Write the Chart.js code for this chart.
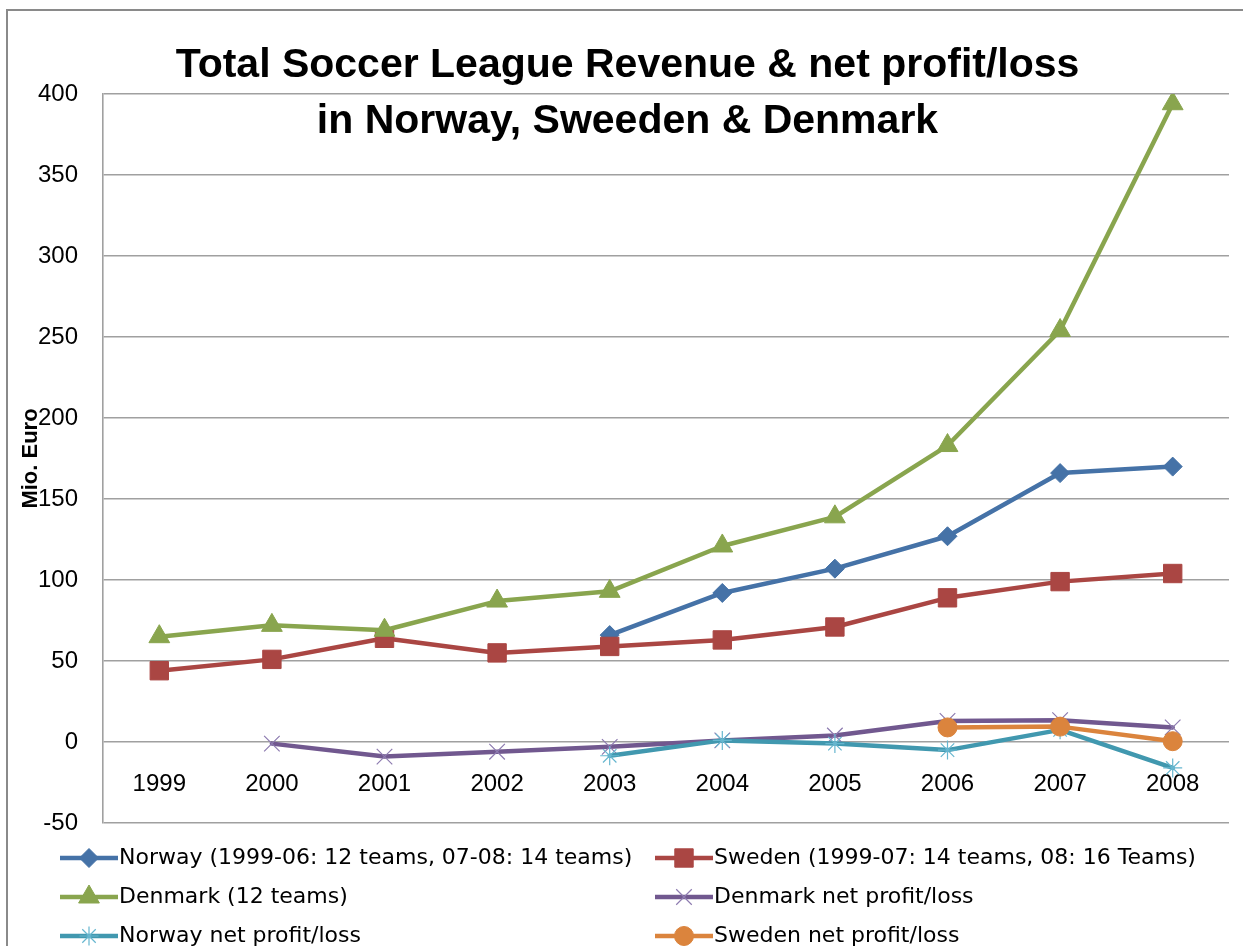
<!DOCTYPE html>
<html>
<head>
<meta charset="utf-8">
<script src="https://cdn.jsdelivr.net/npm/chart.js@4.4.1/dist/chart.umd.min.js"></script>
<style>
html,body{margin:0;padding:0;background:#fff;}
#wrap{width:1243px;height:946px;position:relative;overflow:hidden;}
canvas{display:block;}
</style>
</head>
<body>
<div id="wrap"><canvas id="c" width="1243" height="946"></canvas></div>
<script>
// ---- data ----
const categories = ['1999','2000','2001','2002','2003','2004','2005','2006','2007','2008'];
const norwayRevenue  = [null, null, null, null, 66, 92, 107, 127, 166, 170];
const swedenRevenue  = [44, 51, 64, 55, 59, 63, 71, 89, 99, 104];
const denmarkRevenue = [65, 72, 69, 87, 93, 121, 139, 183, 254, 394];
const denmarkNet     = [null, -1, -9, -6, -3, 1, 4, 13, 13.5, 9];
const norwayNet      = [null, null, null, null, -8.5, 1, -1, -5, 7.5, -16];
const swedenNet      = [null, null, null, null, null, null, null, 9, 9.5, 0.5];
const seriesNames = [
  'Norway (1999-06: 12 teams, 07-08: 14 teams)',
  'Sweden (1999-07: 14 teams, 08: 16 Teams)',
  'Denmark (12 teams)',
  'Denmark net profit/loss',
  'Norway net profit/loss',
  'Sweden net profit/loss'
];
const titleLines = ['Total Soccer League Revenue & net profit/loss', 'in Norway, Sweeden & Denmark'];
const yAxisTitle = 'Mio. Euro';
const yMin = -50, yMax = 400, yStep = 50;

// ---- styles ----
const seriesData = [norwayRevenue, swedenRevenue, denmarkRevenue, denmarkNet, norwayNet, swedenNet];
const styles = [
  {line:'#4572A7', ps:'rectRot',  r:9.5, fill:'#4572A7', border:'#4572A7', bw:1},
  {line:'#AA4643', ps:'rect',     r:13,  fill:'#AA4643', border:'#AA4643', bw:1},
  {line:'#89A54E', ps:'triangle', r:12,  fill:'#89A54E', border:'#89A54E', bw:1},
  {line:'#71588F', ps:'crossRot', r:11,  fill:'#8d7bb0', border:'#8d7bb0', bw:1.2},
  {line:'#4198AF', ps:'star',     r:9.5, fill:'#66b6cf', border:'#66b6cf', bw:1.2},
  {line:'#DB843D', ps:'circle',   r:9.5, fill:'#DB843D', border:'#DB843D', bw:1}
];
const GRID = '#a0a0a0';
const TICK_FONT = {family:'"Liberation Sans", Arial, sans-serif', size:24};

const datasets = seriesData.map((d, i) => ({
  label: seriesNames[i],
  data: d,
  borderColor: styles[i].line,
  backgroundColor: styles[i].line,
  borderWidth: 4.5,
  borderJoinStyle: 'round',
  borderCapStyle: 'round',
  tension: 0,
  fill: false,
  pointStyle: styles[i].ps,
  pointRadius: styles[i].r,
  pointBackgroundColor: styles[i].fill,
  pointBorderColor: styles[i].border,
  pointBorderWidth: styles[i].bw,
  order: 10 - i
}));

const framePlugin = {
  id: 'frame',
  beforeDraw(chart) {
    const ctx = chart.ctx;
    ctx.save();
    ctx.fillStyle = '#fff';
    ctx.fillRect(0, 0, chart.width, chart.height);
    ctx.restore();
  },
  afterDraw(chart) {
    const ctx = chart.ctx;
    ctx.save();
    // outer chart border (left & top visible)
    ctx.strokeStyle = '#8a8a8a';
    ctx.lineWidth = 2;
    ctx.strokeRect(7, 10, 1260, 960);
    // title
    ctx.fillStyle = '#000';
    ctx.font = 'bold 41px "Liberation Sans", Arial, sans-serif';
    ctx.textAlign = 'center';
    ctx.textBaseline = 'alphabetic';
    ctx.fillText(titleLines[0], 627.5, 77);
    ctx.fillText(titleLines[1], 627.5, 133);
    // y axis title
    ctx.save();
    ctx.translate(37, 458.5);
    ctx.rotate(-Math.PI / 2);
    ctx.font = 'bold 22px "Liberation Sans", Arial, sans-serif';
    ctx.fillText(yAxisTitle, 0, 0);
    ctx.restore();
    // legend
    const cols = [60, 655], rows = [858, 897, 936], lineLen = 58;
    chart.data.datasets.forEach((ds, i) => {
      const x0 = cols[i % 2], y = rows[Math.floor(i / 2)];
      ctx.strokeStyle = ds.borderColor;
      ctx.lineWidth = ds.borderWidth;
      ctx.lineCap = 'butt';
      ctx.beginPath(); ctx.moveTo(x0, y); ctx.lineTo(x0 + lineLen, y); ctx.stroke();
      ctx.fillStyle = ds.pointBackgroundColor;
      ctx.strokeStyle = ds.pointBorderColor;
      ctx.lineWidth = ds.pointBorderWidth;
      Chart.helpers.drawPoint(ctx, {pointStyle: ds.pointStyle, radius: ds.pointRadius, rotation: 0, borderWidth: ds.pointBorderWidth}, x0 + lineLen / 2, y);
      ctx.fillStyle = '#000';
      ctx.font = '22px "DejaVu Sans", sans-serif';
      ctx.textAlign = 'left';
      ctx.textBaseline = 'middle';
      ctx.fillText(ds.label, x0 + lineLen + 1, y);
    });
    ctx.restore();
  }
};

new Chart(document.getElementById('c'), {
  type: 'line',
  data: {labels: categories, datasets},
  plugins: [framePlugin],
  options: {
    responsive: false,
    animation: false,
    events: [],
    layout: {padding: {left: 0, top: 94, right: 12, bottom: 123}},
    plugins: {legend: {display: false}, title: {display: false}, tooltip: {enabled: false}},
    scales: {
      x: {
        type: 'category',
        offset: true,
        position: {y: 0},
        grid: {display: false, drawTicks: false},
        border: {display: false},
        ticks: {color: '#000', font: TICK_FONT, padding: 28, maxRotation: 0, autoSkip: false}
      },
      y: {
        min: yMin, max: yMax,
        ticks: {stepSize: yStep, color: '#000', font: TICK_FONT, padding: 25},
        grid: {color: GRID, lineWidth: 1.4, drawTicks: false},
        border: {display: true, color: GRID, width: 1.6},
        afterFit(s) { s.width = 103; }
      }
    }
  }
});
</script>
</body>
</html>
